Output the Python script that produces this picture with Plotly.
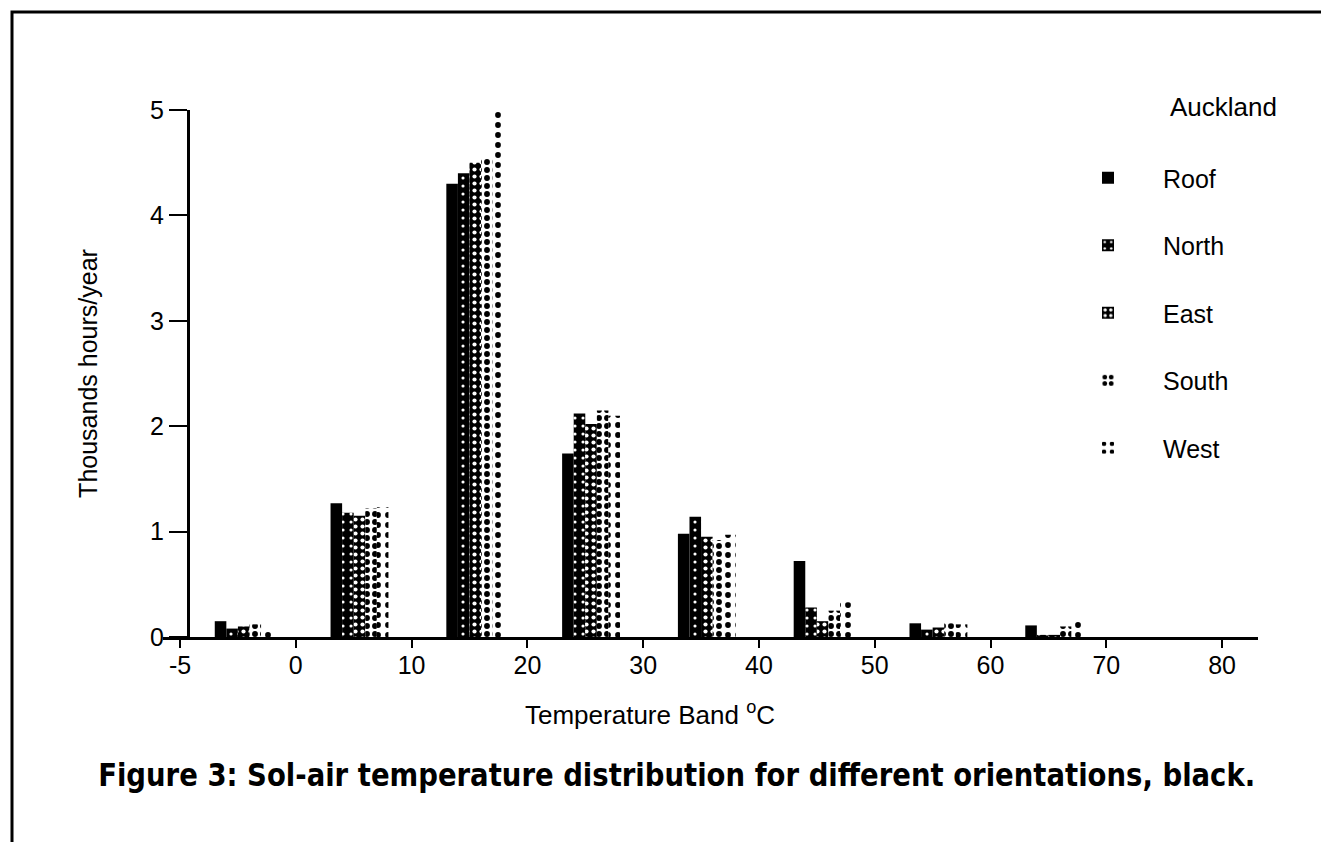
import plotly.graph_objects as go

# ---- data ----
tick_labels = ["-5", "0", "10", "20", "30", "40", "50", "60", "70", "80"]
bands = ["-5–0", "0–10", "10–20", "20–30", "30–40", "40–50", "50–60", "60–70"]
roof  = [0.15, 1.27, 4.30, 1.74, 0.98, 0.72, 0.13, 0.11]
north = [0.08, 1.18, 4.40, 2.12, 1.14, 0.28, 0.07, 0.02]
east  = [0.10, 1.15, 4.50, 2.02, 0.95, 0.15, 0.09, 0.02]
south = [0.12, 1.22, 4.55, 2.15, 0.92, 0.25, 0.13, 0.10]
west  = [0.08, 1.23, 5.07, 2.10, 0.97, 0.33, 0.12, 0.15]
series_names = ["Roof", "North", "East", "South", "West"]

# ---- layout geometry (pixels) ----
W, H = 1321, 842
ML, MR, MT, MB = 163, 63, 110, 205
PW, PH = W - ML - MR, H - MT - MB

def px_x(p):
    return (p - ML) / PW

def px_y(p):
    return (H - MB - p) / PH

band_pos = [i + 0.5 for i in range(len(bands))]

styles = [
    dict(color="black", pattern=None),
    dict(color="black", pattern=dict(shape=".", fgcolor="white", bgcolor="black", size=8, solidity=0.12)),
    dict(color="black", pattern=dict(shape=".", fgcolor="white", bgcolor="black", size=7, solidity=0.28)),
    dict(color="white", pattern=dict(shape=".", fgcolor="black", bgcolor="white", size=8, solidity=0.42)),
    dict(color="white", pattern=dict(shape=".", fgcolor="black", bgcolor="white", size=10, solidity=0.26)),
]

bar_w = 0.1
fig = go.Figure()
for k, (name, vals) in enumerate(zip(series_names, [roof, north, east, south, west])):
    st = styles[k]
    marker = dict(color=st["color"], line=dict(width=0), opacity=1)
    if st["pattern"] is not None:
        pat = dict(st["pattern"])
        pat["fgopacity"] = 1
        pat["fillmode"] = "replace"
        marker["pattern"] = pat
    fig.add_trace(go.Bar(
        x=band_pos, y=vals, name=name, width=bar_w, offset=-0.2 + k * bar_w,
        marker=marker, legendgroup=name, customdata=bands,
        hovertemplate="%{customdata}: %{y}<extra>" + name + "</extra>",
    ))

fig.update_layout(
    width=W, height=H,
    margin=dict(l=ML, r=MR, t=MT, b=MB, autoexpand=False),
    paper_bgcolor="white", plot_bgcolor="white",
    barmode="overlay",
    font=dict(family="Liberation Sans, Arial, sans-serif", color="black", size=25),
    xaxis=dict(
        range=[-0.147, 9.31], tickmode="array", tickvals=list(range(len(tick_labels))),
        ticktext=tick_labels, showgrid=False, zeroline=False,
        showline=True, linecolor="black", linewidth=3,
        ticks="outside", ticklen=8, tickwidth=2, tickcolor="black",
        tickfont=dict(size=25), ticklabelstandoff=-4, fixedrange=True,
    ),
    yaxis=dict(
        range=[0, 5], tickvals=[0, 1, 2, 3, 4, 5], showgrid=False, zeroline=False,
        showline=True, linecolor="black", linewidth=3,
        ticks="outside", ticklen=18, tickwidth=2, tickcolor="black",
        tickfont=dict(size=25), anchor="free", position=px_x(188),
        title=dict(text="Thousands hours/year", font=dict(size=25), standoff=44),
        fixedrange=True,
    ),
    legend=dict(
        x=px_x(1053), y=px_y(155), xanchor="left", yanchor="top",
        font=dict(size=25), tracegroupgap=32, itemwidth=100,
        bgcolor="rgba(0,0,0,0)", traceorder="grouped",
    ),
    showlegend=True,
)

annotations = [
    dict(text="Auckland", x=px_x(1223), y=px_y(107), xref="paper", yref="paper",
         xanchor="center", yanchor="middle", showarrow=False, font=dict(size=26)),
    dict(text="Temperature Band <sup>o</sup>C", x=px_x(650), y=px_y(713), xref="paper", yref="paper",
         xanchor="center", yanchor="middle", showarrow=False, font=dict(size=26)),
    dict(text="Figure 3: Sol-air temperature distribution for different orientations, black.",
         x=px_x(676), y=px_y(775), xref="paper", yref="paper", showarrow=False,
         xanchor="center", yanchor="middle",
         font=dict(size=32, weight="bold",
                   family="DejaVu Sans Condensed, Liberation Sans Narrow, Arial Narrow, sans-serif")),
]
fig.update_layout(annotations=annotations)

# page frame (left and top rules)
fig.add_shape(type="path", xref="paper", yref="paper",
              path=f"M {px_x(12)} {px_y(H + 5)} L {px_x(12)} {px_y(12)} L {px_x(W + 5)} {px_y(12)}",
              line=dict(color="black", width=3))

post = """
document.body.style.margin='0';
document.body.style.padding='0';
function squeezeCaption(){
  document.querySelectorAll('text.annotation-text').forEach(function(el){
    if(el.textContent.indexOf('Figure 3')===0){
      el.setAttribute('textLength','1157');
      el.setAttribute('lengthAdjust','spacingAndGlyphs');
    }
  });
}
squeezeCaption();
var gdEl = document.getElementById('{plot_id}');
if (gdEl && gdEl.on) { gdEl.on('plotly_afterplot', squeezeCaption); }
"""

fig.write_html("out.html", post_script=post, config={"displayModeBar": False})
